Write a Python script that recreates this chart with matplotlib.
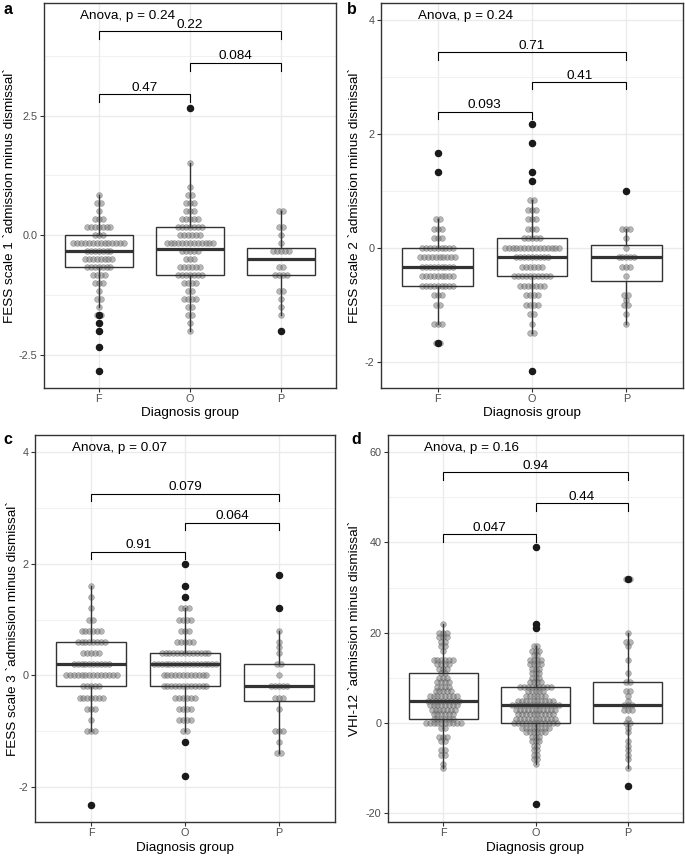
import numpy as np
import matplotlib
matplotlib.use("Agg")
import matplotlib.pyplot as plt
from matplotlib.ticker import FixedLocator

plt.rcParams["font.family"] = ["Liberation Sans", "DejaVu Sans"]

groups = ["F", "O", "P"]

# ---- panel a: FESS scale 1 (value rows of the dotplot + number of dots in each row) ----
a_F_vals = [0.833, 0.667, 0.5, 0.333, 0.167, 0.0, -0.167, -0.333, -0.5, -0.667, -0.833, -1.0,
            -1.167, -1.333, -1.5, -1.667, -1.833, -2.0, -2.333, -2.833]
a_F_counts = [1, 2, 1, 3, 7, 3, 14, 7, 8, 7, 4, 3, 1, 2, 1, 2, 1, 1, 1, 1]
a_O_vals = [2.667, 1.5, 1.0, 0.833, 0.667, 0.5, 0.333, 0.167, 0.0, -0.167, -0.333, -0.5, -0.667,
            -0.833, -1.0, -1.167, -1.333, -1.5, -1.667, -1.833, -2.0]
a_O_counts = [1, 1, 1, 2, 3, 3, 5, 7, 6, 13, 5, 3, 6, 7, 4, 2, 4, 2, 2, 1, 1]
a_P_vals = [0.5, 0.167, 0.0, -0.167, -0.333, -0.667, -0.833, -1.167, -1.333, -1.5, -1.667, -2.0]
a_P_counts = [2, 2, 1, 1, 5, 2, 4, 2, 1, 1, 1, 1]
a_q1 = [-0.667, -0.833, -0.833]
a_med = [-0.333, -0.28, -0.5]
a_q3 = [0.0, 0.167, -0.26]
a_lo = [-1.5, -2.0, -1.667]
a_hi = [0.833, 1.5, 0.5]
a_fliers = [[-1.667, -1.833, -2.0, -2.333, -2.833], [2.667], [-2.0]]
a_pvals = ["0.47", "0.084", "0.22"]
a_anova = "Anova, p = 0.24"

# ---- panel b: FESS scale 2 ----
b_F_vals = [1.667, 1.333, 0.5, 0.333, 0.167, 0.0, -0.167, -0.333, -0.5, -0.667, -0.833, -1.0,
            -1.333, -1.667]
b_F_counts = [1, 1, 2, 3, 3, 9, 10, 9, 9, 9, 3, 2, 3, 2]
b_O_vals = [2.167, 1.833, 1.333, 1.167, 0.833, 0.667, 0.5, 0.333, 0.167, 0.0, -0.167, -0.333,
            -0.5, -0.667, -0.833, -1.0, -1.167, -1.333, -1.5, -2.167]
b_O_counts = [1, 1, 1, 1, 2, 3, 3, 3, 5, 15, 9, 6, 10, 7, 4, 4, 2, 1, 2, 1]
b_P_vals = [1.0, 0.333, 0.167, 0.0, -0.167, -0.333, -0.5, -0.833, -0.917, -1.0, -1.167, -1.333]
b_P_counts = [1, 3, 1, 1, 5, 3, 1, 2, 1, 2, 1, 1]
b_q1 = [-0.667, -0.5, -0.58]
b_med = [-0.333, -0.167, -0.167]
b_q3 = [0.0, 0.167, 0.04]
b_lo = [-1.333, -1.5, -1.333]
b_hi = [0.5, 0.833, 0.333]
b_fliers = [[1.667, 1.333, -1.667], [2.167, 1.833, 1.333, 1.167, -2.167], [1.0]]
b_pvals = ["0.093", "0.41", "0.71"]
b_anova = "Anova, p = 0.24"

# ---- panel c: FESS scale 3 ----
c_F_vals = [1.6, 1.4, 1.2, 1.0, 0.8, 0.6, 0.4, 0.2, 0.0, -0.2, -0.4, -0.6, -0.8, -1.0, -2.33]
c_F_counts = [1, 1, 1, 2, 6, 8, 5, 10, 14, 5, 7, 3, 1, 3, 1]
c_O_vals = [2.0, 1.6, 1.4, 1.2, 1.0, 0.8, 0.6, 0.4, 0.2, 0.0, -0.2, -0.4, -0.6, -0.8, -1.0,
            -1.2, -1.8]
c_O_counts = [1, 1, 1, 3, 4, 3, 5, 13, 17, 12, 12, 6, 4, 4, 2, 1, 1]
c_P_vals = [1.8, 1.2, 0.8, 0.6, 0.5, 0.4, 0.2, 0.0, -0.2, -0.4, -0.6, -1.0, -1.2, -1.4]
c_P_counts = [1, 1, 1, 1, 1, 1, 2, 1, 5, 3, 1, 3, 1, 2]
c_q1 = [-0.2, -0.2, -0.455]
c_med = [0.2, 0.2, -0.2]
c_q3 = [0.6, 0.4, 0.2]
c_lo = [-1.0, -1.0, -1.4]
c_hi = [1.6, 1.2, 0.8]
c_fliers = [[-2.33], [2.0, 1.6, 1.4, -1.2, -1.8], [1.8, 1.2]]
c_pvals = ["0.91", "0.064", "0.079"]
c_anova = "Anova, p = 0.07"

# ---- panel d: VHI-12 ----
d_F_vals = [22, 20, 19, 18, 17, 16, 14, 13, 12, 11, 10, 9, 8, 7, 6, 5, 4, 3, 2, 1, 0, -1, -3,
            -4, -6, -7, -9, -10]
d_F_counts = [1, 3, 3, 2, 2, 1, 6, 4, 3, 2, 3, 4, 4, 5, 8, 9, 8, 7, 6, 6, 10, 2, 3, 2, 2, 2, 1, 1]
d_O_vals = [39, 22, 21, 17, 16, 15, 14, 13, 12, 11, 10, 9, 8, 7, 6, 5, 4, 3, 2, 1, 0, -1, -2,
            -3, -4, -5, -6, -7, -8, -9, -18]
d_O_counts = [1, 1, 1, 2, 3, 2, 4, 4, 3, 3, 3, 4, 9, 5, 6, 10, 13, 11, 10, 11, 12, 8, 6, 3, 3,
              2, 2, 2, 2, 1, 1]
d_P_vals = [32, 20, 18, 17, 14, 11, 9, 7, 6, 5, 4, 3, 1, 0, -1, -2, -4, -5, -6, -7, -8, -10, -14]
d_P_counts = [2, 1, 2, 1, 1, 1, 2, 2, 1, 1, 3, 3, 1, 2, 1, 1, 1, 1, 1, 1, 1, 1, 1]
d_q1 = [1, 0, 0]
d_med = [5, 4, 4]
d_q3 = [11, 8, 9]
d_lo = [-10, -9, -10]
d_hi = [22, 17, 20]
d_fliers = [[], [39, 22, 21, -18], [32, -14]]
d_pvals = ["0.047", "0.44", "0.94"]
d_anova = "Anova, p = 0.16"

W, H = 685, 857
fig = plt.figure(figsize=(W / 100, H / 100), dpi=100)


def axes_px(l, t, r, b):
    return fig.add_axes([l / W, 1 - b / H, (r - l) / W, (b - t) / H])


def draw_panel(ax, rows, q1, med, q3, lo, hi, fliers, pvals, anova, ylabel,
               ylim, yticks, yminor, ticklabels, ylab_x):
    ax.set_xlim(0.4, 3.6)
    ax.set_ylim(*ylim)
    ax_w = ax.get_position().width * W
    dx = 3.9 / (ax_w / 3.2)  # horizontal dot spacing in data units

    # dotplot (stackdir = center)
    for gi, (vals, counts) in enumerate(rows):
        xs, ys = [], []
        for v, n in zip(vals, counts):
            off = (np.arange(n) - (n - 1) / 2) * dx
            xs.extend(gi + 1 + off)
            ys.extend([v] * n)
        ax.scatter(xs, ys, s=17, facecolor=(0.45, 0.45, 0.45, 0.5),
                   edgecolor=(0.35, 0.35, 0.35, 0.45), linewidth=0.5, zorder=2)

    stats = [dict(q1=q1[i], med=med[i], q3=q3[i], whislo=lo[i], whishi=hi[i],
                  fliers=fliers[i]) for i in range(3)]
    ax.bxp(stats, positions=[1, 2, 3], widths=0.75, showcaps=False, patch_artist=True,
           boxprops=dict(facecolor="none", edgecolor="#333333", linewidth=1.0),
           whiskerprops=dict(color="#333333", linewidth=1.0),
           medianprops=dict(color="#333333", linewidth=2.3),
           flierprops=dict(marker="o", markerfacecolor="#1a1a1a", markeredgecolor="#1a1a1a",
                           markersize=4.4),
           zorder=3)

    # pairwise comparison brackets
    allv = [v for vals, _ in rows for v in vals]
    ymax, ymin = max(allv), min(allv)
    rng = ymax - ymin
    tip = 0.03 * rng
    pairs = [(1, 2), (2, 3), (1, 3)]
    for i, ((x1, x2), p) in enumerate(zip(pairs, pvals)):
        y = ymax + rng * (0.05 + 0.12 * i)
        ax.plot([x1, x1, x2, x2], [y - tip, y, y, y - tip], color="black", lw=0.8,
                zorder=4, solid_joinstyle="miter")
        ax.annotate(p, (0.5 * (x1 + x2), y), xytext=(0, 2.5), textcoords="offset points",
                    ha="center", va="baseline", fontsize=9.7, zorder=5)

    ax.text(0.123, 0.966, anova, transform=ax.transAxes, ha="left", va="center",
            fontsize=9.7, zorder=5)

    ax.set_xticks([1, 2, 3])
    ax.set_xticklabels(groups)
    ax.set_yticks(yticks)
    ax.set_yticklabels(ticklabels)
    ax.yaxis.set_minor_locator(FixedLocator(yminor))
    ax.xaxis.set_minor_locator(FixedLocator([]))
    ax.tick_params(which="major", length=2.6, width=0.8, color="#333333",
                   labelcolor="#4D4D4D", labelsize=7.8, pad=2)
    ax.tick_params(which="minor", length=0)
    ax.grid(which="major", color="#EBEBEB", lw=1.0, zorder=0)
    ax.grid(which="minor", axis="y", color="#EBEBEB", lw=0.5, zorder=0)
    ax.set_axisbelow(True)
    for s in ax.spines.values():
        s.set_color("#333333")
        s.set_linewidth(1.0)

    ax.text(0.5, -0.066, "Diagnosis group", transform=ax.transAxes, ha="center",
            va="center", fontsize=9.7)
    ax.text(ylab_x, 0.5, ylabel, transform=ax.transAxes, ha="center", va="center",
            rotation=90, fontsize=9.7)
    return ax


axA = axes_px(44, 3, 336, 388)
axB = axes_px(381, 3, 683, 388)
axC = axes_px(35, 435, 335, 822)
axD = axes_px(388, 435, 683, 822)

draw_panel(axA, [(a_F_vals, a_F_counts), (a_O_vals, a_O_counts), (a_P_vals, a_P_counts)],
           a_q1, a_med, a_q3, a_lo, a_hi, a_fliers, a_pvals, a_anova,
           "FESS scale 1 `admission minus dismissal`", (-3.19, 4.85),
           [-2.5, 0.0, 2.5], [-1.25, 1.25, 3.75], ["-2.5", "0.0", "2.5"], -0.116)
draw_panel(axB, [(b_F_vals, b_F_counts), (b_O_vals, b_O_counts), (b_P_vals, b_P_counts)],
           b_q1, b_med, b_q3, b_lo, b_hi, b_fliers, b_pvals, b_anova,
           "FESS scale 2 `admission minus dismissal`", (-2.46, 4.29),
           [-2, 0, 2, 4], [-1, 1, 3], ["-2", "0", "2", "4"], -0.086)
draw_panel(axC, [(c_F_vals, c_F_counts), (c_O_vals, c_O_counts), (c_P_vals, c_P_counts)],
           c_q1, c_med, c_q3, c_lo, c_hi, c_fliers, c_pvals, c_anova,
           "FESS scale 3 `admission minus dismissal`", (-2.63, 4.31),
           [-2, 0, 2, 4], [-1, 1, 3], ["-2", "0", "2", "4"], -0.073)
draw_panel(axD, [(d_F_vals, d_F_counts), (d_O_vals, d_O_counts), (d_P_vals, d_P_counts)],
           d_q1, d_med, d_q3, d_lo, d_hi, d_fliers, d_pvals, d_anova,
           "VHI-12 `admission minus dismissal`", (-21.9, 63.8),
           [-20, 0, 20, 40, 60], [-10, 10, 30, 50], ["-20", "0", "20", "40", "60"], -0.112)

# panel tags
for tag, (px, py) in zip("abcd", [(3, 10), (347, 10), (3, 440), (351, 440)]):
    fig.text(px / W, 1 - py / H, tag, fontsize=11.5, fontweight="bold", ha="left", va="center")

fig.savefig("out.png", dpi=100)
